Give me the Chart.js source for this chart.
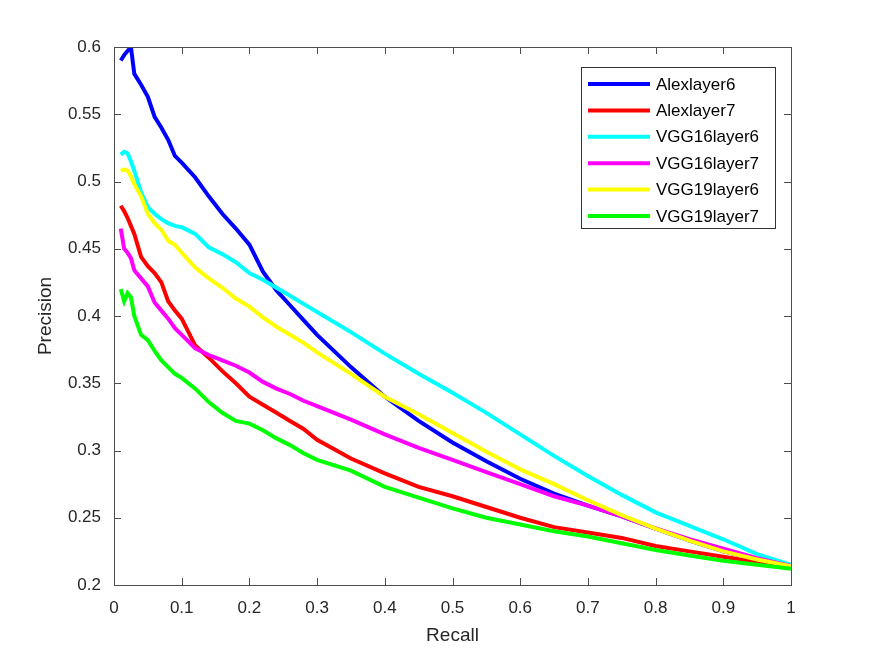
<!DOCTYPE html>
<html>
<head>
<meta charset="utf-8">
<script src="https://cdn.jsdelivr.net/npm/chart.js@4.4.0/dist/chart.umd.min.js"></script>
<style>
  html, body { margin: 0; padding: 0; background: #fff; }
  #wrap { width: 875px; height: 657px; }
</style>
</head>
<body>
<div id="wrap"><canvas id="pr"></canvas></div>
<script>
// recall grid shared by all curves
const recall = [0.01, 0.015, 0.02, 0.025, 0.03, 0.04, 0.05, 0.06, 0.07, 0.08, 0.09, 0.10,
  0.12, 0.14, 0.16, 0.18, 0.20, 0.22, 0.24, 0.26, 0.28, 0.30,
  0.35, 0.40, 0.45, 0.50, 0.55, 0.60, 0.65, 0.70, 0.75, 0.80, 0.85, 0.90, 0.95, 1.00];

const alexLayer6 = [0.590, 0.594, 0.597, 0.600, 0.580, 0.572, 0.563, 0.548, 0.540, 0.531, 0.519, 0.514,
  0.503, 0.489, 0.476, 0.465, 0.453, 0.433, 0.419, 0.408, 0.397, 0.386,
  0.362, 0.340, 0.322, 0.306, 0.292, 0.279, 0.268, 0.259, 0.251, 0.242, 0.233, 0.225, 0.219, 0.214];
const alexLayer7 = [0.482, 0.478, 0.473, 0.467, 0.461, 0.444, 0.437, 0.432, 0.425, 0.411, 0.404, 0.398,
  0.378, 0.369, 0.359, 0.350, 0.340, 0.334, 0.328, 0.322, 0.316, 0.308,
  0.294, 0.283, 0.273, 0.266, 0.258, 0.250, 0.243, 0.239, 0.235, 0.229, 0.225, 0.221, 0.217, 0.213];
const vgg16Layer6 = [0.520, 0.522, 0.521, 0.515, 0.508, 0.492, 0.481, 0.476, 0.472, 0.469, 0.467, 0.466,
  0.461, 0.451, 0.446, 0.440, 0.432, 0.427, 0.421, 0.415, 0.409, 0.403,
  0.388, 0.372, 0.357, 0.343, 0.328, 0.312, 0.296, 0.281, 0.267, 0.254, 0.244, 0.234, 0.223, 0.215];
const vgg16Layer7 = [0.465, 0.450, 0.447, 0.443, 0.434, 0.428, 0.422, 0.410, 0.404, 0.398, 0.391, 0.386,
  0.376, 0.371, 0.367, 0.363, 0.358, 0.351, 0.346, 0.342, 0.337, 0.333,
  0.323, 0.312, 0.302, 0.293, 0.284, 0.275, 0.266, 0.259, 0.251, 0.242, 0.234, 0.227, 0.220, 0.214];
const vgg19Layer6 = [0.508, 0.509, 0.508, 0.504, 0.498, 0.489, 0.476, 0.469, 0.464, 0.456, 0.453, 0.447,
  0.436, 0.428, 0.421, 0.413, 0.407, 0.399, 0.392, 0.386, 0.380, 0.373,
  0.357, 0.340, 0.327, 0.313, 0.299, 0.286, 0.275, 0.263, 0.252, 0.242, 0.233, 0.225, 0.219, 0.214];
const vgg19Layer7 = [0.420, 0.411, 0.417, 0.414, 0.400, 0.386, 0.382, 0.374, 0.367, 0.362, 0.357, 0.354,
  0.346, 0.336, 0.328, 0.322, 0.320, 0.315, 0.309, 0.304, 0.298, 0.293,
  0.285, 0.273, 0.265, 0.257, 0.250, 0.245, 0.240, 0.236, 0.231, 0.226, 0.222, 0.218, 0.215, 0.212];

const seriesNames = ['Alexlayer6', 'Alexlayer7', 'VGG16layer6', 'VGG16layer7', 'VGG19layer6', 'VGG19layer7'];
const seriesValues = [alexLayer6, alexLayer7, vgg16Layer6, vgg16Layer7, vgg19Layer6, vgg19Layer7];
const seriesColors = ['#0000ff', '#ff0000', '#00ffff', '#ff00ff', '#ffff00', '#00ff00'];

const xTicks = [0, 0.1, 0.2, 0.3, 0.4, 0.5, 0.6, 0.7, 0.8, 0.9, 1];
const yTicks = [0.2, 0.25, 0.3, 0.35, 0.4, 0.45, 0.5, 0.55, 0.6];

const FONT = '"Liberation Sans", Arial, Helvetica, sans-serif';
const TEXT = '#262626';

const fmt = v => String(+(+v).toFixed(2));

// matlab style box, inward ticks, axis titles and legend
const matlabFrame = {
  id: 'matlabFrame',
  afterDatasetsDraw(chart) {
    const { ctx, chartArea: a, scales } = chart;
    ctx.save();
    ctx.strokeStyle = '#4d4d4d';
    ctx.lineWidth = 1;
    ctx.strokeRect(a.left + 0.5, a.top + 0.5, a.right - a.left, a.bottom - a.top);
    const tl = 7;
    ctx.beginPath();
    xTicks.forEach(v => {
      const x = Math.round(scales.x.getPixelForValue(v)) + 0.5;
      ctx.moveTo(x, a.bottom); ctx.lineTo(x, a.bottom - tl);
      ctx.moveTo(x, a.top); ctx.lineTo(x, a.top + tl);
    });
    yTicks.forEach(v => {
      const y = Math.round(scales.y.getPixelForValue(v)) + 0.5;
      ctx.moveTo(a.left, y); ctx.lineTo(a.left + tl, y);
      ctx.moveTo(a.right, y); ctx.lineTo(a.right - tl, y);
    });
    ctx.stroke();

    // axis titles
    ctx.fillStyle = TEXT;
    ctx.font = '19px ' + FONT;
    ctx.textAlign = 'center';
    ctx.textBaseline = 'middle';
    ctx.fillText('Recall', (a.left + a.right) / 2, 636);
    ctx.save();
    ctx.translate(46, (a.top + a.bottom) / 2);
    ctx.rotate(-Math.PI / 2);
    ctx.fillText('Precision', 0, 0);
    ctx.restore();

    // legend
    const lx = 581, ly = 67, lw = 194, lh = 161;
    ctx.fillStyle = '#fff';
    ctx.fillRect(lx, ly, lw, lh);
    ctx.strokeStyle = '#333';
    ctx.strokeRect(lx + 0.5, ly + 0.5, lw, lh);
    ctx.font = '17px ' + FONT;
    ctx.textAlign = 'left';
    seriesNames.forEach((name, i) => {
      const y = 84 + i * 26.4;
      ctx.strokeStyle = seriesColors[i];
      ctx.lineWidth = 4;
      ctx.beginPath();
      ctx.moveTo(588, y); ctx.lineTo(650, y);
      ctx.stroke();
      ctx.fillStyle = '#000';
      ctx.fillText(name, 656, y + 1);
    });
    ctx.restore();
  }
};

new Chart(document.getElementById('pr'), {
  type: 'line',
  data: {
    datasets: seriesNames.map((name, i) => ({
      label: name,
      data: recall.map((r, j) => ({ x: r, y: seriesValues[i][j] })),
      borderColor: seriesColors[i],
      backgroundColor: seriesColors[i],
      borderWidth: 4,
      pointRadius: 0,
      tension: 0,
      fill: false,
      order: seriesNames.length - i
    }))
  },
  options: {
    responsive: true,
    maintainAspectRatio: false,
    animation: false,
    layout: { padding: { left: 0, top: 47, right: 84, bottom: 0 } },
    plugins: { legend: { display: false }, tooltip: { enabled: false } },
    scales: {
      x: {
        type: 'linear', min: 0, max: 1,
        grid: { display: false }, border: { display: false },
        afterFit: s => { s.height = 72; },
        afterBuildTicks: s => { s.ticks = xTicks.map(v => ({ value: v })); },
        ticks: { autoSkip: false, maxRotation: 0, padding: 5, color: TEXT,
          font: { family: FONT, size: 17 }, callback: fmt }
      },
      y: {
        type: 'linear', min: 0.2, max: 0.6,
        grid: { display: false }, border: { display: false },
        afterFit: s => { s.width = 114; },
        afterBuildTicks: s => { s.ticks = yTicks.map(v => ({ value: v })); },
        ticks: { autoSkip: false, padding: 5, color: TEXT,
          font: { family: FONT, size: 17 }, callback: fmt }
      }
    }
  },
  plugins: [matlabFrame]
});
</script>
</body>
</html>
